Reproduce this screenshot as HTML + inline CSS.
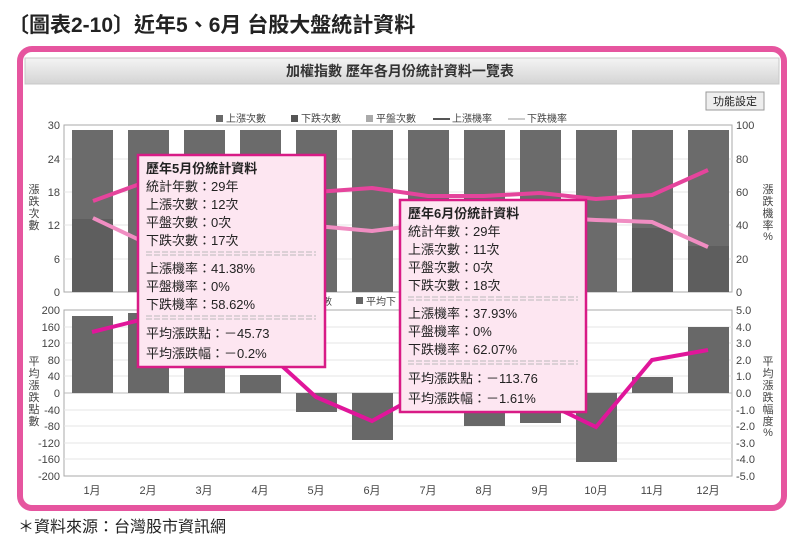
<!DOCTYPE html>
<html><head><meta charset="utf-8"><style>
body{margin:0;width:800px;height:538px;background:#fff;overflow:hidden;font-family:"Liberation Sans","Noto Sans CJK TC",sans-serif}
</style></head><body>
<svg width="800" height="538" viewBox="0 0 800 538" xmlns="http://www.w3.org/2000/svg" font-family="Liberation Sans, Noto Sans CJK TC, sans-serif">
<defs><linearGradient id="hd" x1="0" y1="0" x2="0" y2="1"><stop offset="0" stop-color="#f4f4f4"/><stop offset="1" stop-color="#d4d4d4"/></linearGradient></defs>
<text x="8" y="32" font-size="21" font-weight="bold" fill="#222">〔圖表2-10〕近年5、6月 台股大盤統計資料</text>
<rect x="20" y="49" width="764" height="459" rx="12" fill="#fff" stroke="#e6559f" stroke-width="6"/>
<rect x="25" y="58" width="754" height="26" fill="url(#hd)" stroke="#c8c8c8"/>
<text x="400" y="76" font-size="14" text-anchor="middle" fill="#333" font-weight="bold">加權指數 歷年各月份統計資料一覽表</text>
<rect x="706" y="92" width="58" height="18" fill="#eee" stroke="#999"/>
<text x="735" y="105" font-size="11" text-anchor="middle" fill="#222">功能設定</text>
<!-- legend top -->
<g font-size="10" fill="#444">
<rect x="216" y="115" width="7" height="7" fill="#6a6a6a"/><text x="226" y="122">上漲次數</text>
<rect x="291" y="115" width="7" height="7" fill="#555"/><text x="301" y="122">下跌次數</text>
<rect x="366" y="115" width="7" height="7" fill="#aaa"/><text x="376" y="122">平盤次數</text>
<line x1="433" y1="119" x2="450" y2="119" stroke="#555" stroke-width="2"/><text x="452" y="122">上漲機率</text>
<line x1="508" y1="119" x2="525" y2="119" stroke="#ccc" stroke-width="2"/><text x="527" y="122">下跌機率</text>
</g>
<!-- top plot -->
<rect x="64" y="125" width="668" height="167" fill="#fff" stroke="#aaa"/>
<g stroke="#e6e6e6"><line x1="64" y1="159" x2="732" y2="159"/><line x1="64" y1="192" x2="732" y2="192"/><line x1="64" y1="225" x2="732" y2="225"/><line x1="64" y1="259" x2="732" y2="259"/></g>
<g fill="#6b6b6b">
<rect x="72" y="130" width="41" height="162"/><rect x="128" y="130" width="41" height="162"/><rect x="184" y="130" width="41" height="162"/><rect x="240" y="130" width="41" height="162"/><rect x="296" y="130" width="41" height="162"/><rect x="352" y="130" width="41" height="162"/><rect x="408" y="130" width="41" height="162"/><rect x="464" y="130" width="41" height="162"/><rect x="520" y="130" width="41" height="162"/><rect x="576" y="130" width="41" height="162"/><rect x="632" y="130" width="41" height="162"/><rect x="688" y="130" width="41" height="162"/>
</g>
<g fill="#5e5e5e"><rect x="72" y="219" width="41" height="73"/><rect x="688" y="246" width="41" height="46"/><rect x="632" y="228" width="41" height="64"/></g>
<g font-size="11" fill="#444" text-anchor="end"><text x="60" y="129">30</text><text x="60" y="163">24</text><text x="60" y="196">18</text><text x="60" y="229">12</text><text x="60" y="263">6</text><text x="60" y="296">0</text></g>
<g font-size="11" fill="#444"><text x="736" y="129">100</text><text x="736" y="163">80</text><text x="736" y="196">60</text><text x="736" y="229">40</text><text x="736" y="263">20</text><text x="736" y="296">0</text></g>
<g font-size="11" fill="#444" text-anchor="middle"><text x="34" y="193">漲</text><text x="34" y="205">跌</text><text x="34" y="217">次</text><text x="34" y="229">數</text>
<text x="768" y="193">漲</text><text x="768" y="205">跌</text><text x="768" y="217">機</text><text x="768" y="229">率</text><text x="768" y="240">%</text></g>
<polyline points="93,201 148,181 204,185 260,190 316,192 372,188 428,196 484,196 540,193 596,199 652,195 708,170" fill="none" stroke="#e5449c" stroke-width="4"/>
<polyline points="93,218 148,244 204,238 260,232 316,226 372,231 428,224 484,220 540,217 596,220 652,222 708,247" fill="none" stroke="#f08dc2" stroke-width="4"/>
<!-- bottom plot -->
<rect x="64" y="310" width="668" height="166" fill="#fff" stroke="#aaa"/>
<g stroke="#e6e6e6"><line x1="64" y1="327" x2="732" y2="327"/><line x1="64" y1="343" x2="732" y2="343"/><line x1="64" y1="360" x2="732" y2="360"/><line x1="64" y1="376" x2="732" y2="376"/><line x1="64" y1="410" x2="732" y2="410"/><line x1="64" y1="426" x2="732" y2="426"/><line x1="64" y1="443" x2="732" y2="443"/><line x1="64" y1="459" x2="732" y2="459"/></g>
<line x1="64" y1="393" x2="732" y2="393" stroke="#bbb"/>
<g fill="#686868">
<rect x="72" y="316" width="41" height="77"/><rect x="128" y="313" width="41" height="80"/><rect x="184" y="351" width="41" height="42"/><rect x="240" y="375" width="41" height="18"/><rect x="296" y="393" width="41" height="19"/><rect x="352" y="393" width="41" height="47"/><rect x="408" y="380" width="41" height="13"/><rect x="464" y="393" width="41" height="33"/><rect x="520" y="393" width="41" height="30"/><rect x="576" y="393" width="41" height="69"/><rect x="632" y="377" width="41" height="16"/><rect x="688" y="327" width="41" height="66"/>
</g>
<g font-size="11" fill="#444" text-anchor="end"><text x="60" y="314">200</text><text x="60" y="331">160</text><text x="60" y="347">120</text><text x="60" y="364">80</text><text x="60" y="380">40</text><text x="60" y="397">0</text><text x="60" y="414">-40</text><text x="60" y="430">-80</text><text x="60" y="447">-120</text><text x="60" y="463">-160</text><text x="60" y="480">-200</text></g>
<g font-size="11" fill="#444"><text x="736" y="314">5.0</text><text x="736" y="331">4.0</text><text x="736" y="347">3.0</text><text x="736" y="364">2.0</text><text x="736" y="380">1.0</text><text x="736" y="397">0.0</text><text x="736" y="414">-1.0</text><text x="736" y="430">-2.0</text><text x="736" y="447">-3.0</text><text x="736" y="463">-4.0</text><text x="736" y="480">-5.0</text></g>
<g font-size="11" fill="#444" text-anchor="middle"><text x="34" y="365">平</text><text x="34" y="377">均</text><text x="34" y="389">漲</text><text x="34" y="401">跌</text><text x="34" y="413">點</text><text x="34" y="425">數</text>
<text x="768" y="365">平</text><text x="768" y="377">均</text><text x="768" y="389">漲</text><text x="768" y="401">跌</text><text x="768" y="413">幅</text><text x="768" y="425">度</text><text x="768" y="436">%</text></g>
<g font-size="11" fill="#444" text-anchor="middle"><text x="92" y="494">1月</text><text x="148" y="494">2月</text><text x="204" y="494">3月</text><text x="260" y="494">4月</text><text x="316" y="494">5月</text><text x="372" y="494">6月</text><text x="428" y="494">7月</text><text x="484" y="494">8月</text><text x="540" y="494">9月</text><text x="596" y="494">10月</text><text x="652" y="494">11月</text><text x="708" y="494">12月</text></g>
<g font-size="10" fill="#444"><text x="322" y="305">數</text><rect x="356" y="297" width="7" height="7" fill="#666"/><text x="366" y="305">平均下</text></g>
<polyline points="92,332 148,318 204,335 260,346 316,397 372,421 428,390 484,395 540,400 596,427 652,360 708,350" fill="none" stroke="#e0169a" stroke-width="4"/>
<!-- tooltips -->
<g font-size="13" fill="#222">
<rect x="138" y="155" width="187" height="212" fill="#fde6f1" stroke="#d81b86" stroke-width="2.5"/>
<text x="146" y="173" font-weight="bold">歷年5月份統計資料</text>
<text x="146" y="191">統計年數：29年</text><text x="146" y="209">上漲次數：12次</text><text x="146" y="227">平盤次數：0次</text><text x="146" y="245">下跌次數：17次</text>
<line x1="146" y1="252" x2="316" y2="252" stroke="#bbb" stroke-dasharray="6,2"/><line x1="146" y1="255" x2="316" y2="255" stroke="#bbb" stroke-dasharray="6,2"/>
<text x="146" y="273">上漲機率：41.38%</text><text x="146" y="291">平盤機率：0%</text><text x="146" y="309">下跌機率：58.62%</text>
<line x1="146" y1="316" x2="316" y2="316" stroke="#bbb" stroke-dasharray="6,2"/><line x1="146" y1="319" x2="316" y2="319" stroke="#bbb" stroke-dasharray="6,2"/>
<text x="146" y="338">平均漲跌點：－45.73</text><text x="146" y="358">平均漲跌幅：－0.2%</text>
<rect x="400" y="200" width="186" height="212" fill="#fde6f1" stroke="#d81b86" stroke-width="2.5"/>
<text x="408" y="218" font-weight="bold">歷年6月份統計資料</text>
<text x="408" y="236">統計年數：29年</text><text x="408" y="254">上漲次數：11次</text><text x="408" y="272">平盤次數：0次</text><text x="408" y="290">下跌次數：18次</text>
<line x1="408" y1="297" x2="578" y2="297" stroke="#bbb" stroke-dasharray="6,2"/><line x1="408" y1="300" x2="578" y2="300" stroke="#bbb" stroke-dasharray="6,2"/>
<text x="408" y="318">上漲機率：37.93%</text><text x="408" y="336">平盤機率：0%</text><text x="408" y="354">下跌機率：62.07%</text>
<line x1="408" y1="361" x2="578" y2="361" stroke="#bbb" stroke-dasharray="6,2"/><line x1="408" y1="364" x2="578" y2="364" stroke="#bbb" stroke-dasharray="6,2"/>
<text x="408" y="383">平均漲跌點：－113.76</text><text x="408" y="403">平均漲跌幅：－1.61%</text>
</g>
<text x="18" y="532" font-size="16" fill="#222">＊資料來源：台灣股市資訊網</text>
</svg>
</body></html>
